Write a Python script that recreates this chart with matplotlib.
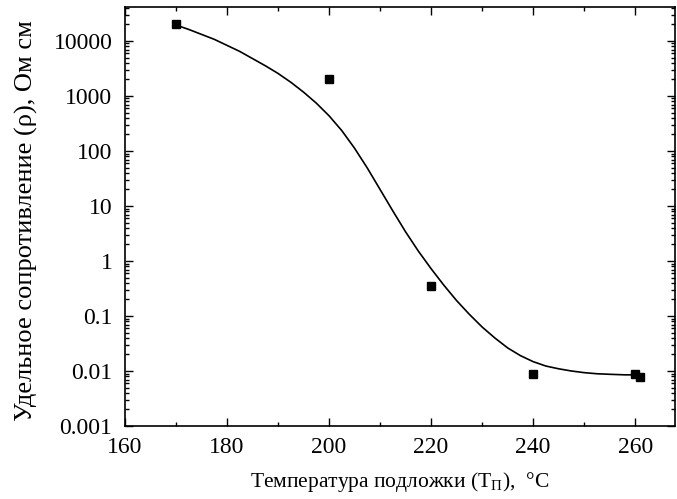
import numpy as np
import matplotlib
matplotlib.use('Agg')
import matplotlib.pyplot as plt
from matplotlib.ticker import FuncFormatter, MultipleLocator, LogLocator

plt.rcParams['font.family'] = ['Liberation Serif', 'DejaVu Serif']
plt.rcParams['mathtext.fontset'] = 'custom'
plt.rcParams['mathtext.rm'] = 'Liberation Serif'

# measured points
temp = [170, 200, 220, 240, 260, 261]
rho = [20000, 2000, 0.355, 0.0088, 0.0088, 0.0079]

# fitted curve (log10 of rho)
fit_temp = [170, 172.5, 175, 177.5, 180, 182.5, 185, 187.5, 190, 192.5,
            195, 197.5, 200, 202.5, 205, 207.5, 210, 212.5, 215, 217.5,
            220, 222.5, 225, 227.5, 230, 232.5, 235, 237.5, 240, 242.5,
            245, 247.5, 250, 252.5, 255, 258, 261]
fit_log_rho = [4.29, 4.21, 4.12, 4.03, 3.92, 3.81, 3.68, 3.55, 3.41, 3.25,
               3.07, 2.87, 2.64, 2.37, 2.05, 1.69, 1.30, 0.91, 0.53, 0.18,
               -0.14, -0.44, -0.72, -0.97, -1.20, -1.40, -1.58, -1.72, -1.83, -1.91,
               -1.96, -2.00, -2.03, -2.05, -2.06, -2.07, -2.07]

fig = plt.figure(figsize=(6.77, 4.99), dpi=100)
ax = fig.add_axes([0.1846, 0.1463, 0.997 - 0.1846, 0.986 - 0.1463])

ax.plot(fit_temp, 10 ** np.array(fit_log_rho), color='black', lw=1.2)
ax.plot(temp, rho, 's', color='black', markersize=6)

ax.set_yscale('log')
ax.set_xlim(160, 267.8)
ax.set_ylim(0.001, 41500)

ax.xaxis.set_major_locator(MultipleLocator(20))
ax.xaxis.set_minor_locator(MultipleLocator(10))
ax.yaxis.set_major_locator(LogLocator(base=10, numticks=20))
ax.yaxis.set_minor_locator(LogLocator(base=10, subs=np.arange(2, 10), numticks=20))
ax.yaxis.set_major_formatter(FuncFormatter(lambda v, p: '%g' % v))

ax.tick_params(which='both', direction='in', top=True, right=True,
               labelsize=17, width=1.0)
ax.tick_params(axis='x', pad=8)
ax.tick_params(axis='y', pad=9)
ax.tick_params(which='major', length=6)
ax.tick_params(which='minor', length=3)
for s in ax.spines.values():
    s.set_linewidth(1.2)

ax.set_xlabel('Температура подложки ($\\mathrm{T_{П}}$),  °C', fontsize=15.5)
ax.set_ylabel('Удельное сопротивление (ρ), Ом см', fontsize=19)
ax.xaxis.set_label_coords(0.5, -0.106)
ax.yaxis.set_label_coords(-0.158, 0.49)

fig.savefig('out.png', dpi=100)
